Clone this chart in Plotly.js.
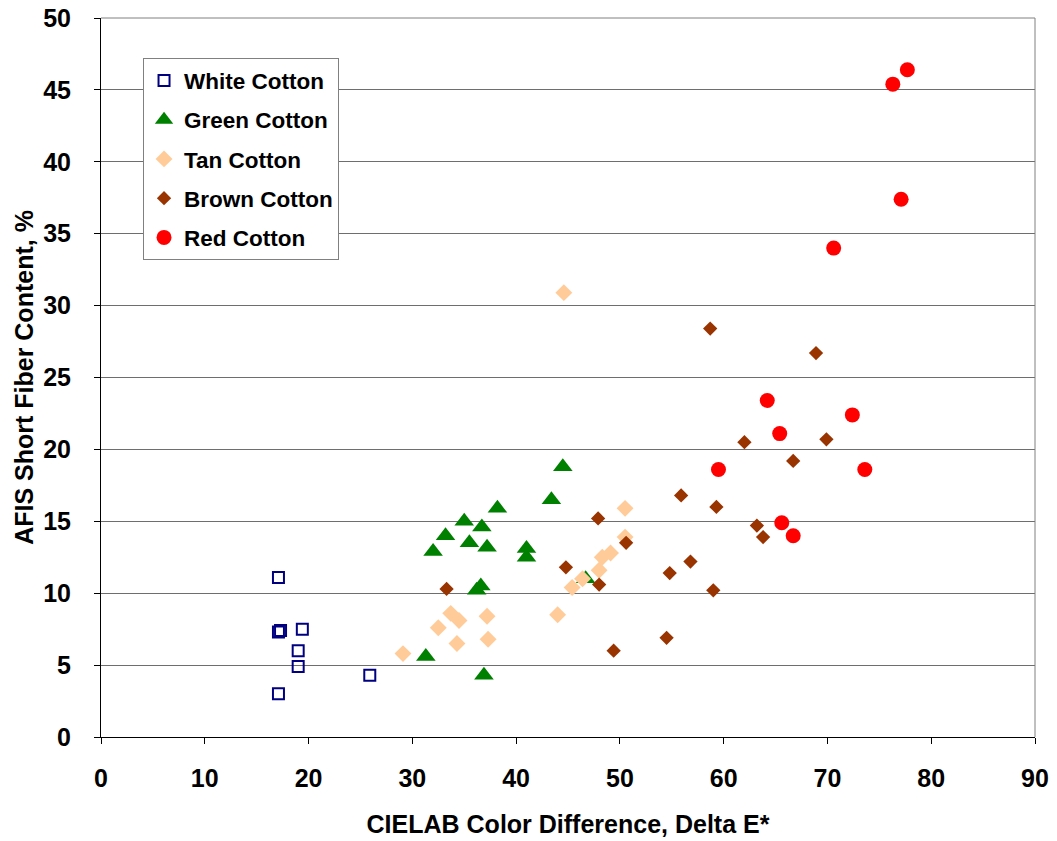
<!DOCTYPE html>
<html>
<head>
<meta charset="utf-8">
<script src="https://cdn.plot.ly/plotly-3.0.1.min.js"></script>
<style>body{margin:0;padding:0;background:#fff;}#chart{width:1057px;height:841px;}</style>
</head>
<body>
<div id="chart"></div>
<script>
var seriesNames = ["White Cotton", "Green Cotton", "Tan Cotton", "Brown Cotton", "Red Cotton"];

var whiteX = [17.1, 17.1, 17.3, 19.4, 19.0, 19.0, 25.9, 17.1];
var whiteY = [11.1, 7.3, 7.4, 7.5, 6.0, 4.9, 4.3, 3.0];

var greenX = [44.5, 43.4, 38.2, 35.0, 36.7, 33.2, 35.5, 37.2, 32.0, 41.0, 41.0, 36.2, 36.6, 31.3, 36.9, 46.7];
var greenY = [18.8, 16.5, 15.9, 15.0, 14.6, 14.0, 13.5, 13.2, 12.9, 13.1, 12.5, 10.2, 10.5, 5.6, 4.3, 11.0];

var tanX = [29.1, 32.5, 34.3, 33.7, 34.5, 37.2, 37.3, 44.0, 44.6, 50.5, 50.5, 49.1, 48.3, 48.0, 46.4, 45.4];
var tanY = [5.8, 7.6, 6.5, 8.6, 8.1, 8.4, 6.8, 8.5, 30.9, 15.9, 13.9, 12.8, 12.5, 11.6, 11.0, 10.4];

var brownX = [33.3, 44.8, 47.9, 50.6, 48.0, 49.4, 54.5, 54.8, 56.8, 59.0, 55.9, 59.3, 58.7, 68.9, 62.0, 69.9, 66.7, 63.2, 63.8];
var brownY = [10.3, 11.8, 15.2, 13.5, 10.6, 6.0, 6.9, 11.4, 12.2, 10.2, 16.8, 16.0, 28.4, 26.7, 20.5, 20.7, 19.2, 14.7, 13.9];

var redX = [77.7, 76.3, 77.1, 70.6, 64.2, 72.4, 65.4, 59.5, 73.6, 65.6, 66.7];
var redY = [46.4, 45.4, 37.4, 34.0, 23.4, 22.4, 21.1, 18.6, 18.6, 14.9, 14.0];

var xTicks = [0, 10, 20, 30, 40, 50, 60, 70, 80, 90];
var yTicks = [0, 5, 10, 15, 20, 25, 30, 35, 40, 45, 50];

var FONT = "Liberation Sans, Arial, sans-serif";

var traces = [
  {x: whiteX, y: whiteY, name: seriesNames[0], type: "scatter", mode: "markers",
   marker: {symbol: "square-open", size: 11, color: "#000080", line: {width: 2, color: "#000080"}}},
  {x: greenX, y: greenY, name: seriesNames[1], type: "scatter", mode: "markers",
   marker: {symbol: "triangle-up", size: 17, color: "#008000"}},
  {x: tanX, y: tanY, name: seriesNames[2], type: "scatter", mode: "markers",
   marker: {symbol: "diamond", size: 13, color: "#FFCC99"}},
  {x: brownX, y: brownY, name: seriesNames[3], type: "scatter", mode: "markers",
   marker: {symbol: "diamond", size: 11, color: "#993300"}},
  {x: redX, y: redY, name: seriesNames[4], type: "scatter", mode: "markers",
   marker: {symbol: "circle", size: 15, color: "#FF0000"}}
];
traces.forEach(function(t, i){ t.legendgroup = "g" + i; });

var layout = {
  width: 1057, height: 841,
  margin: {l: 101, r: 22, t: 18, b: 104},
  paper_bgcolor: "#ffffff", plot_bgcolor: "#ffffff",
  font: {family: FONT, size: 25, color: "#000"},
  showlegend: true,
  legend: {
    x: 0.045, y: 0.944, xanchor: "left", yanchor: "top",
    bgcolor: "#ffffff", bordercolor: "#808080", borderwidth: 1,
    font: {family: FONT, size: 22.5, color: "#000", weight: "bold"},
    traceorder: "grouped", tracegroupgap: 7
  },
  xaxis: {
    range: [0, 90], tickvals: xTicks, ticktext: xTicks.map(String),
    showgrid: false, zeroline: false,
    showline: true, linecolor: "#000", linewidth: 1,
    ticks: "outside", ticklen: 6, tickcolor: "#000",
    ticklabelstandoff: 13,
    tickfont: {family: FONT, size: 25, weight: "bold"},
    title: {text: "CIELAB Color Difference, Delta E*", font: {family: FONT, size: 25, weight: "bold"}, standoff: 24}
  },
  yaxis: {
    range: [0, 50], tickvals: yTicks, ticktext: yTicks.map(String),
    showgrid: true, gridcolor: "#6e6e6e", gridwidth: 1,
    zeroline: false,
    showline: true, linecolor: "#000", linewidth: 1,
    ticks: "outside", ticklen: 6, tickcolor: "#000",
    ticklabelstandoff: 18,
    tickfont: {family: FONT, size: 25, weight: "bold"},
    title: {text: "AFIS Short Fiber Content, %", font: {family: FONT, size: 25, weight: "bold"}, standoff: 2}
  },
  shapes: [
    {type: "line", xref: "paper", yref: "paper", x0: 0, x1: 1, y0: 1, y1: 1, line: {color: "#808080", width: 1}},
    {type: "line", xref: "paper", yref: "paper", x0: 1, x1: 1, y0: 0, y1: 1, line: {color: "#808080", width: 1}}
  ]
};

Plotly.newPlot("chart", traces, layout, {displayModeBar: false, staticPlot: true});
</script>
</body>
</html>
